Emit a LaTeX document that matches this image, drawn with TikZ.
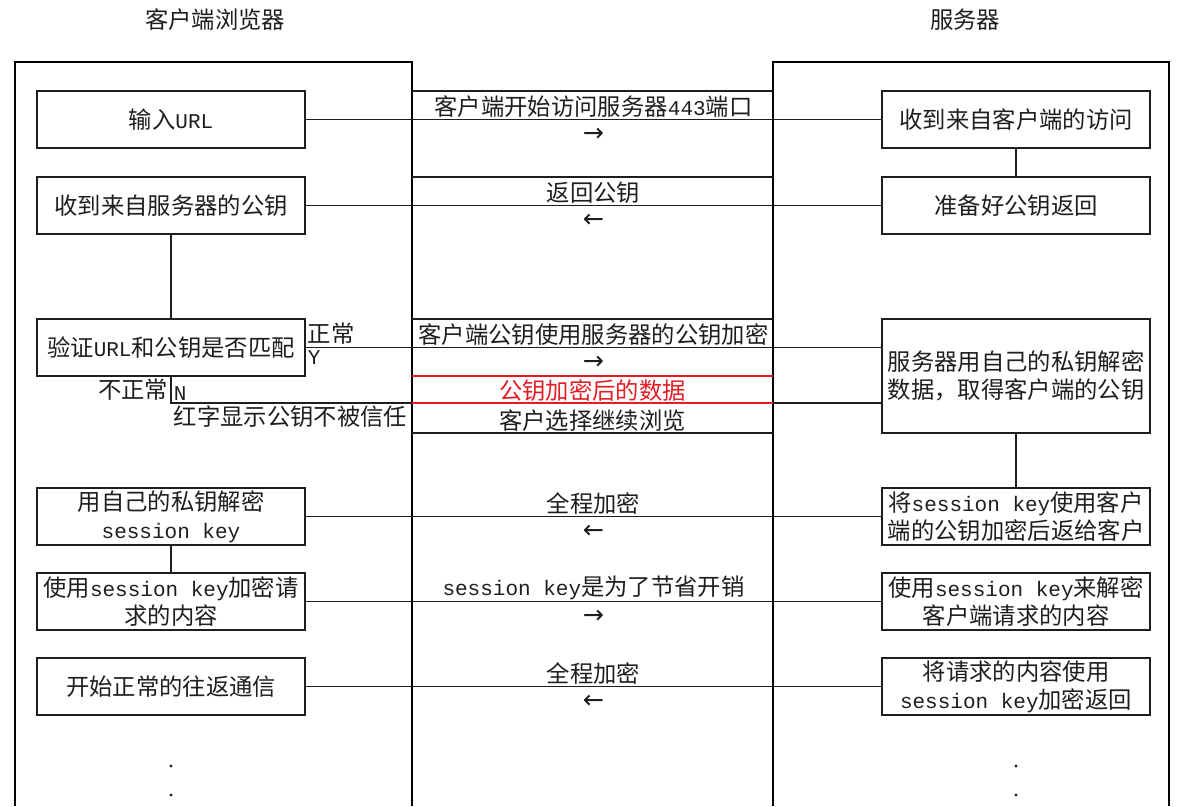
\documentclass[tikz,border=0pt]{standalone}
\usepackage{fontspec}
\setmainfont{Noto Sans CJK SC}
\setmonofont{Liberation Mono}[Scale=0.9]
\newfontfamily\arrowfont{DejaVu Sans}
\usepackage{xcolor}
\usetikzlibrary{positioning}
\definecolor{inkGray}{RGB}{30,30,30}
\definecolor{markRed}{RGB}{228,28,36}
\newcommand{\lat}[1]{{\ttfamily #1}}

\begin{document}
\begin{tikzpicture}[
  x=0.75pt, y=-0.75pt,
  font=\fontsize{17.5}{21}\selectfont, text=inkGray,
  box/.style  = {draw=inkGray, line width=1pt, minimum width=201pt,
                 minimum height=42.75pt, align=center, inner sep=1pt,
                 outer sep=0pt},
  tall/.style = {box, minimum height=85.5pt},
  lane/.style = {draw=black, line width=2pt},
  link/.style = {draw=inkGray, line width=0.8pt},
  redline/.style = {draw=markRed, line width=0.9pt},
  msg/.style  = {above, inner sep=1pt},
  dir/.style  = {below=6pt, inner sep=0pt, font=\arrowfont\fontsize{19}{19}\selectfont}
]
\useasboundingbox (0,0) rectangle (1184,806);

% titles and lanes
\node (clientT) at (215,20) {客户端浏览器};
\node (serverT) at (965,20) {服务器};
\draw[lane] (15,806) -- (15,62) -- (412,62) -- (412,806);
\draw[lane] (773,806) -- (773,62) -- (1169,62) -- (1169,806);
\coordinate (cEdge) at (412,62);
\coordinate (sEdge) at (773,62);
\coordinate (gap)   at (592.5,62);

% client side
\node[box] (url) at (171,119.5) {输入\lat{URL}};
\node[box,  below=21.75pt of url]    (pubkey) {收到来自服务器的公钥};
\node[box,  below=63.75pt of pubkey] (verify) {验证\lat{URL}和公钥是否匹配};
\node[box,  below=84pt of verify]    (decode) {用自己的私钥解密\\\lat{session key}};
\node[box,  below=21pt of decode]    (encreq) {使用\lat{session key}加密请\\求的内容};
\node[box,  below=21pt of encreq]    (comm)   {开始正常的往返通信};

% server side
\node[box,  right=432.75pt of url]   (visit)   {收到来自客户端的访问};
\node[box,  below=21.75pt of visit]  (ready)   {准备好公钥返回};
\node[tall, below=63.75pt of ready]  (srvdec)  {服务器用自己的私钥解密\\数据，取得客户端的公钥};
\node[box,  below=41.25pt of srvdec] (skey)    {将\lat{session key}使用客户\\端的公钥加密后返给客户};
\node[box,  below=21pt of skey]      (srvread) {使用\lat{session key}来解密\\客户端请求的内容};
\node[box,  below=21pt of srvread]   (srvret)  {将请求的内容使用\\\lat{session key}加密返回};

% steps inside each lane
\draw[link] (pubkey) -- (verify);
\draw[link] (decode) -- (encreq);
\draw[link] (visit)  -- (ready);
\draw[link] (srvdec) -- (skey);

% message cells
\foreach \n in {url, pubkey, verify}
  \draw[link] (\n.north -| cEdge) -- (\n.north -| sEdge);

\draw[link] (url) -- node[msg] {客户端开始访问服务器\lat{443}端口} node[dir] {→} (visit);
\draw[link] (pubkey) -- node[msg] {返回公钥} node[dir] {←} (ready);
\draw[link] (verify.east) -- node[msg] {客户端公钥使用服务器的公钥加密} node[dir] {→} (verify.east -| srvdec.west);
\node[anchor=south west, inner sep=2pt] (okT) at (verify.east) {正常};
\node[anchor=north west, inner sep=2pt] (okY) at (verify.east) {\lat{Y}};

\coordinate (nTurn) at (171,403);
\draw[link] (verify.south) -- (nTurn) -- (nTurn -| srvdec.west);
\node[anchor=south east, inner sep=2pt] (badT) at (nTurn) {不正常};
\node[anchor=south west, inner sep=2pt] (badN) at (nTurn) {\lat{N}};
\node[anchor=north west, inner sep=2pt] (warn) at (nTurn) {红字显示公钥不被信任};

\draw[redline] (verify.south -| cEdge) -- (verify.south -| sEdge);
\draw[redline] (nTurn -| cEdge) -- (nTurn -| sEdge);
\node[msg, text=markRed] (encData) at (nTurn -| gap) {公钥加密后的数据};
\node[msg] (goOn) at (srvdec.south -| gap) {客户选择继续浏览};
\draw[link] (srvdec.south -| cEdge) -- (srvdec.south -| sEdge);

\draw[link] (decode) -- node[msg] {全程加密} node[dir] {←} (skey);
\draw[link] (encreq) -- node[msg] {\lat{session key}是为了节省开销} node[dir] {→} (srvread);
\draw[link] (comm) -- node[msg] {全程加密} node[dir] {←} (srvret);

% more to come
\foreach \d in {38.25, 60} {
  \fill[inkGray] ([yshift=-\d pt]comm.south) circle (1.6);
  \fill[inkGray] ([yshift=-\d pt]srvret.south) circle (1.6);
}
\end{tikzpicture}
\end{document}
